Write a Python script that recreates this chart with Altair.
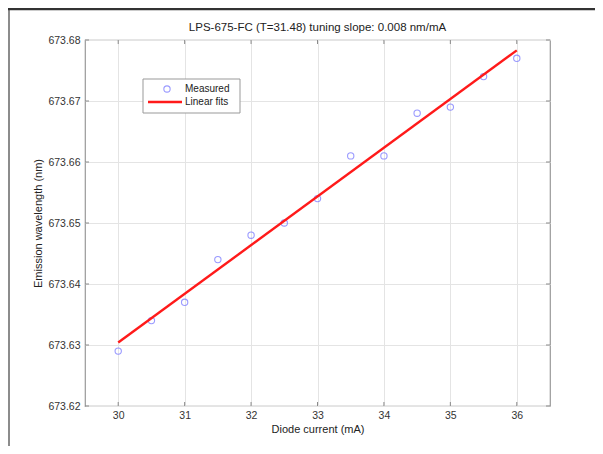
import altair as alt
import pandas as pd

# ---- data ----
current_mA = [30, 30.5, 31, 31.5, 32, 32.5, 33, 33.5, 34, 34.5, 35, 35.5, 36]
wavelength_nm = [673.629, 673.634, 673.637, 673.644, 673.648, 673.650, 673.654,
                 673.661, 673.661, 673.668, 673.669, 673.674, 673.677]
fit_current = [30, 36]
fit_wavelength = [673.6304, 673.6783]
series_names = ["Measured", "Linear fits"]
x_ticks = [30, 31, 32, 33, 34, 35, 36]
y_ticks = [673.62, 673.63, 673.64, 673.65, 673.66, 673.67, 673.68]
title_text = "LPS-675-FC (T=31.48) tuning slope: 0.008 nm/mA"

W, H = 465, 366
FONT = "Liberation Sans"

meas = pd.DataFrame({"x": current_mA, "y": wavelength_nm})
fit = pd.DataFrame({"x": fit_current, "y": fit_wavelength})
xt = pd.DataFrame({"x": x_ticks})
yt = pd.DataFrame({"y": y_ticks})

xs = alt.Scale(domain=[29.5, 36.5], nice=False, zero=False)
ys = alt.Scale(domain=[673.62, 673.68], nice=False, zero=False)

xenc = alt.X("x:Q", scale=xs, title="Diode current (mA)",
             axis=alt.Axis(values=x_ticks, format="d", grid=True, ticks=False,
                           domain=False, labelPadding=4, titlePadding=3))
yenc = alt.Y("y:Q", scale=ys, title="Emission wavelength (nm)",
             axis=alt.Axis(values=y_ticks, format=".2f", grid=True, ticks=False,
                           domain=False, labelPadding=5, titlePadding=4))

points = alt.Chart(meas).mark_point(shape="circle", filled=False, size=40,
                                    strokeWidth=1.1, color="#7070ff").encode(x=xenc, y=yenc)
line = alt.Chart(fit).mark_line(color="#ff1a1a", strokeWidth=2.4).encode(
    x=alt.X("x:Q", scale=xs), y=alt.Y("y:Q", scale=ys))

tick_col = "#8a8a8a"
bt = alt.Chart(xt).mark_rule(color=tick_col).encode(x=alt.X("x:Q", scale=xs), y=alt.value(H), y2=alt.value(H - 4))
tt = alt.Chart(xt).mark_rule(color=tick_col).encode(x=alt.X("x:Q", scale=xs), y=alt.value(0), y2=alt.value(4))
lt = alt.Chart(yt).mark_rule(color=tick_col).encode(y=alt.Y("y:Q", scale=ys), x=alt.value(0), x2=alt.value(4))
rt = alt.Chart(yt).mark_rule(color=tick_col).encode(y=alt.Y("y:Q", scale=ys), x=alt.value(W), x2=alt.value(W - 4))

# legend (drawn as marks)
one = pd.DataFrame({"k": [0]})
leg_box = alt.Chart(one).mark_rect(fill="white", stroke="#999999", strokeWidth=1).encode(
    x=alt.value(58), x2=alt.value(155), y=alt.value(39), y2=alt.value(73))
leg_pt = alt.Chart(one).mark_point(shape="circle", filled=False, size=40, strokeWidth=1.1,
                                   color="#7070ff").encode(x=alt.value(82), y=alt.value(49))
leg_ln = alt.Chart(one).mark_rule(color="#ff1a1a", strokeWidth=2.4).encode(
    x=alt.value(63), x2=alt.value(97), y=alt.value(62))
leg_t1 = alt.Chart(pd.DataFrame({"label": [series_names[0]]})).mark_text(
    align="left", baseline="middle", fontSize=10, font=FONT, color="#222222").encode(
    x=alt.value(100), y=alt.value(49), text="label:N")
leg_t2 = alt.Chart(pd.DataFrame({"label": [series_names[1]]})).mark_text(
    align="left", baseline="middle", fontSize=10, font=FONT, color="#222222").encode(
    x=alt.value(100), y=alt.value(62), text="label:N")

# chart title (as a text mark so the outer frame does not push it away)
title_mark = alt.Chart(pd.DataFrame({"t": [title_text]})).mark_text(
    align="center", baseline="middle", fontSize=11.5, font=FONT, color="#222222").encode(
    x=alt.value(W / 2), y=alt.value(-12), text="t:N")

# outer figure frame (as close to the page edge as the SVG allows)
frame_left = alt.Chart(one).mark_rule(color="#666666", strokeWidth=1.5).encode(
    x=alt.value(-76), y=alt.value(-32), y2=alt.value(414))
frame_top = alt.Chart(one).mark_rule(color="#333333", strokeWidth=2.5).encode(
    x=alt.value(-77), x2=alt.value(510), y=alt.value(-31))

chart = alt.layer(points, line, bt, tt, lt, rt, leg_box, leg_pt, leg_ln, leg_t1, leg_t2,
                  title_mark, frame_left, frame_top).properties(
    width=W, height=H,
    autosize=alt.AutoSizeParams(type="none"),
    padding={"left": 77, "top": 32, "right": 45, "bottom": 40},
).configure_view(stroke="#999999", strokeWidth=1.2).configure_axis(
    labelFont=FONT, labelFontSize=10.5, labelColor="#333333",
    titleFont=FONT, titleFontSize=11, titleColor="#222222", titleFontWeight="normal",
    gridColor="#e4e4e4", gridWidth=1,
)

chart.save("out.html", embed_options={"renderer": "svg", "actions": False})
